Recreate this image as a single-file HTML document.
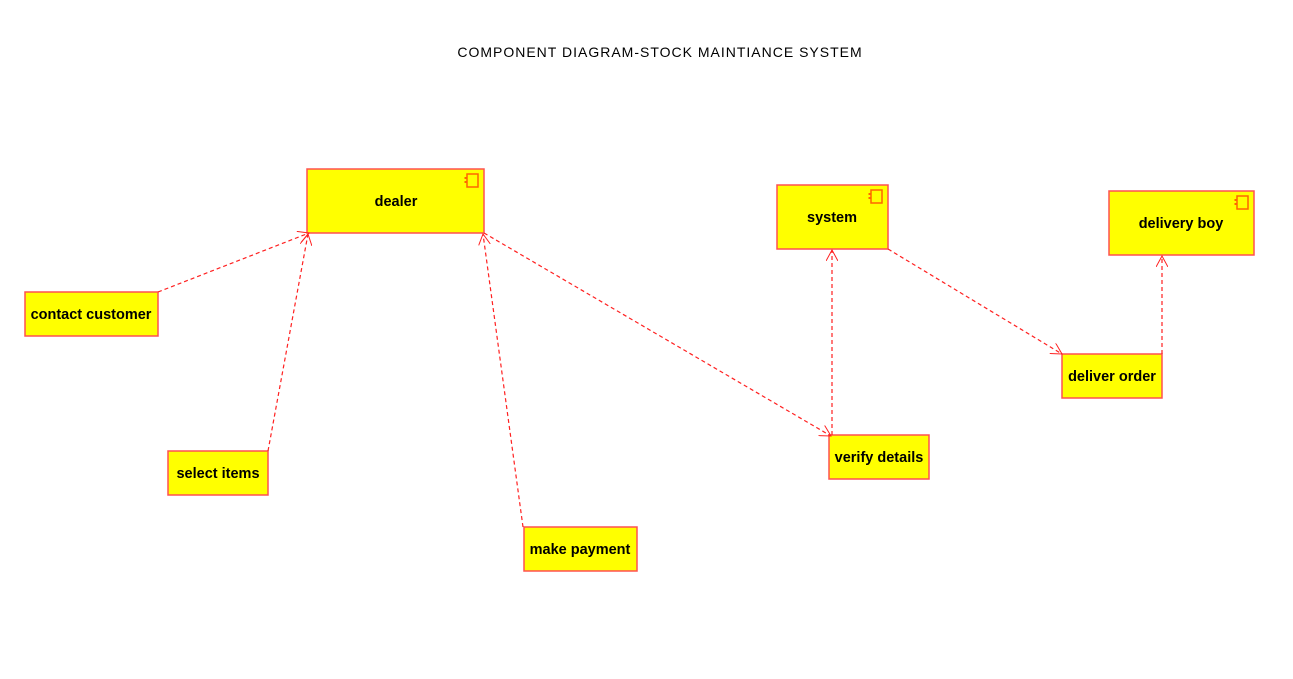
<!DOCTYPE html>
<html><head><meta charset="utf-8"><style>
html,body{margin:0;padding:0;background:#fff;}
svg{display:block;}
text{font-family:"Liberation Sans",Arial,sans-serif;}
</style></head><body>
<svg width="1293" height="679" viewBox="0 0 1293 679" xmlns="http://www.w3.org/2000/svg">
<defs>
<marker id="a" viewBox="0 0 12 12" refX="11" refY="6" markerWidth="12" markerHeight="12" markerUnits="userSpaceOnUse" orient="auto">
<path d="M0,0 L11,6 L0,12" fill="none" stroke="#ff2020" stroke-width="1"/>
</marker>
<g id="ic">
<rect x="0" y="0" width="11" height="13" fill="none" stroke="#ff6600" stroke-width="1.5"/>
<rect x="-2.5" y="3" width="3" height="2" fill="#ff6600"/>
<rect x="-2.5" y="7" width="3" height="2" fill="#ff6600"/>
</g>
</defs>
<text x="660" y="57" text-anchor="middle" font-size="14" letter-spacing="1" fill="#000">COMPONENT DIAGRAM-STOCK MAINTIANCE SYSTEM</text>

<g fill="#ffff00" stroke="#ff5050" stroke-width="1.5">
<rect x="307" y="169" width="177" height="64"/>
<rect x="777" y="185" width="111" height="64"/>
<rect x="1109" y="191" width="145" height="64"/>
<rect x="25" y="292" width="133" height="44"/>
<rect x="168" y="451" width="100" height="44"/>
<rect x="524" y="527" width="113" height="44"/>
<rect x="829" y="435" width="100" height="44"/>
<rect x="1062" y="354" width="100" height="44"/>
</g>
<use href="#ic" x="467" y="174"/>
<use href="#ic" x="871" y="190"/>
<use href="#ic" x="1237" y="196"/>

<g font-size="14.5" font-weight="bold" fill="#000" text-anchor="middle">
<text x="396" y="206">dealer</text>
<text x="832" y="222">system</text>
<text x="1181" y="228">delivery boy</text>
<text x="91" y="319">contact customer</text>
<text x="218" y="478">select items</text>
<text x="580" y="554">make payment</text>
<text x="879" y="462">verify details</text>
<text x="1112" y="381">deliver order</text>
</g>

<g stroke="#ff2020" stroke-width="1.2" stroke-dasharray="4,3" fill="none">
<line x1="158" y1="292" x2="309" y2="233" marker-end="url(#a)"/>
<line x1="268" y1="451" x2="308" y2="234" marker-end="url(#a)"/>
<line x1="523" y1="527" x2="483" y2="234" marker-end="url(#a)"/>
<line x1="484" y1="233" x2="831" y2="436" marker-end="url(#a)"/>
<line x1="832" y1="435" x2="832" y2="250" marker-end="url(#a)"/>
<line x1="888" y1="249" x2="1062" y2="354" marker-end="url(#a)"/>
<line x1="1162" y1="354" x2="1162" y2="256" marker-end="url(#a)"/>
</g>
</svg>
</body></html>
